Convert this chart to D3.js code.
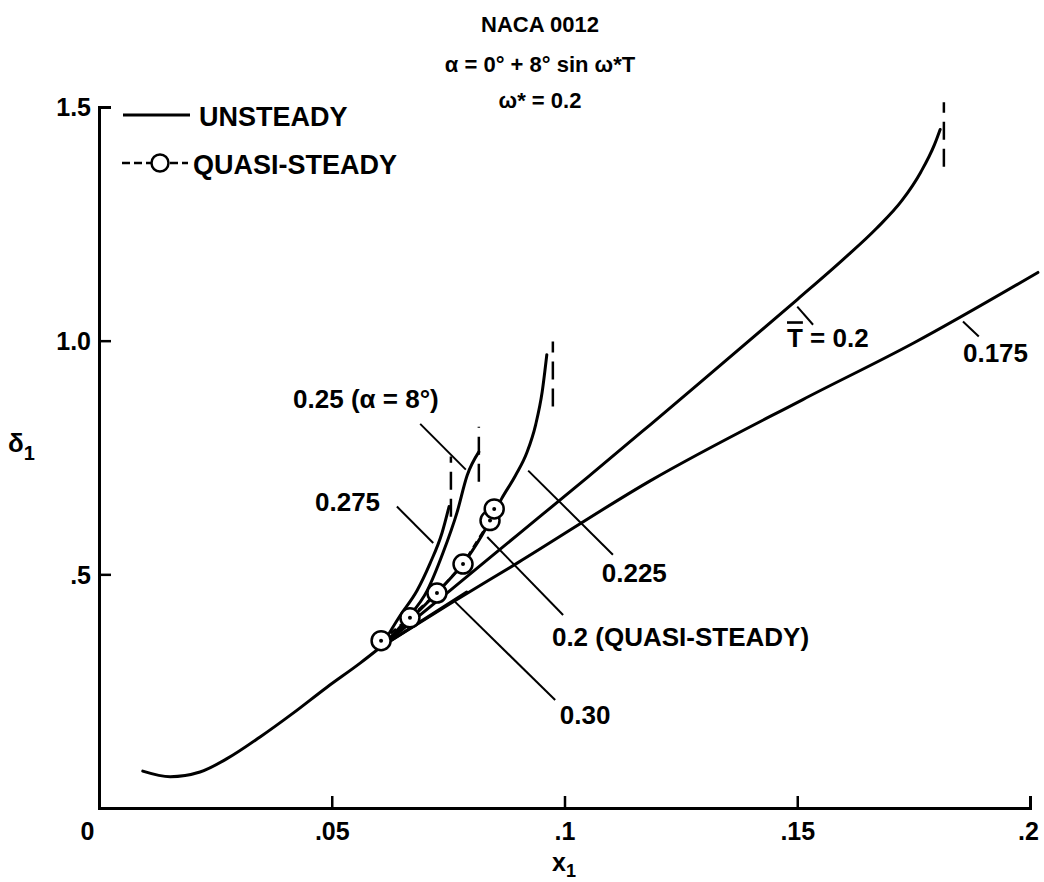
<!DOCTYPE html>
<html>
<head>
<meta charset="UTF-8">
<script src="https://cdn.jsdelivr.net/npm/d3@7"></script>
<style>
  body { margin: 0; background: #fff; }
  text { font-family: Arial, "Liberation Sans", sans-serif; font-weight: bold; fill: #000; }
</style>
</head>
<body>
<script>
// data (x1, delta1)
var baseX = [0.0094, 0.0153, 0.0217, 0.0274, 0.0346, 0.0417, 0.0489, 0.0561, 0.0606];
var baseY = [0.079, 0.067, 0.077, 0.105, 0.152, 0.203, 0.258, 0.310, 0.345];

var t200X = [0.0606, 0.075, 0.09, 0.105, 0.1184, 0.1291, 0.150, 0.160, 0.167, 0.1725, 0.1765, 0.1795, 0.1807];
var t200Y = [0.345, 0.462, 0.585, 0.708, 0.820, 0.910, 1.088, 1.175, 1.240, 1.300, 1.360, 1.420, 1.452];

var t175X = [0.0606, 0.0754, 0.09, 0.1184, 0.1512, 0.175, 0.2017];
var t175Y = [0.345, 0.437, 0.525, 0.700, 0.874, 0.995, 1.146];

var t225X = [0.0606, 0.067, 0.073, 0.079, 0.0835, 0.0865, 0.0895, 0.0919, 0.0938, 0.0952, 0.0962];
var t225Y = [0.345, 0.405, 0.465, 0.533, 0.605, 0.662, 0.712, 0.760, 0.820, 0.890, 0.970];

var t250X = [0.0606, 0.0662, 0.0705, 0.0739, 0.0769, 0.0791, 0.0816];
var t250Y = [0.345, 0.405, 0.465, 0.546, 0.632, 0.712, 0.762];

var t275X = [0.0606, 0.0647, 0.0683, 0.0711, 0.0737, 0.0752];
var t275Y = [0.345, 0.412, 0.465, 0.523, 0.589, 0.645];

var t300X = [0.0606, 0.070, 0.079];
var t300Y = [0.345, 0.405, 0.462];

// quasi-steady points
var qsX = [0.0606, 0.0668, 0.0726, 0.0782, 0.0840, 0.0849];
var qsY = [0.358, 0.407, 0.460, 0.522, 0.615, 0.640];

// dashed verticals at curve ends
var sepX  = [0.1815, 0.0975, 0.0816, 0.0756];
var sepY0 = [1.372, 0.859, 0.698, 0.623];
var sepY1 = [1.510, 0.998, 0.816, 0.752];

// curve labels
var labText = ["T = 0.2", "0.175", "0.225", "0.2 (QUASI-STEADY)", "0.275", "0.25 (\u03b1 = 8\u00b0)", "0.30"];
var labX = [0.1478, 0.1856, 0.1080, 0.0973, 0.0464, 0.0417, 0.0990];
var labY = [1.006, 0.974, 0.503, 0.366, 0.655, 0.876, 0.199];
var leadX0 = [0.1500, 0.1856, 0.0922, 0.0834, 0.0640, 0.0690, 0.0765];
var leadY0 = [1.073, 1.041, 0.722, 0.580, 0.645, 0.822, 0.441];
var leadX1 = [0.1534, 0.1890, 0.1104, 0.0997, 0.0718, 0.0788, 0.0980];
var leadY1 = [1.034, 1.009, 0.542, 0.413, 0.567, 0.724, 0.231];

var xTicks = [0, 0.05, 0.1, 0.15, 0.2];
var xTickLabels = ["0", ".05", ".1", ".15", ".2"];
var yTicks = [0.5, 1.0, 1.5];
var yTickLabels = [".5", "1.0", "1.5"];

var margin = {top: 107, right: 14, bottom: 74, left: 99},
    width = 1044 - margin.left - margin.right,
    height = 882 - margin.top - margin.bottom;

var x = d3.scaleLinear().domain([0, 0.2]).range([0, width]);
var y = d3.scaleLinear().domain([0, 1.5]).range([height, 0]);

var svg = d3.select('body').append('svg')
    .attr('width', 1044).attr('height', 882);

var g = svg.append('g')
    .attr('transform', 'translate(' + margin.left + ',' + margin.top + ')');

function pts(xs, ys) {
  return xs.map(function(v, i) { return {x: v, y: ys[i]}; });
}

var line = d3.line()
    .x(function(d) { return x(d.x); })
    .y(function(d) { return y(d.y); })
    .curve(d3.curveMonotoneX);

// axes
var xAxis = g.append('g')
    .attr('transform', 'translate(0,' + height + ')')
    .call(d3.axisBottom(x).tickValues(xTicks).tickSize(-12).tickPadding(14)
      .tickFormat(function(d, i) { return xTickLabels[i]; }));
var yAxis = g.append('g')
    .call(d3.axisLeft(y).tickValues(yTicks).tickSize(-12).tickPadding(8)
      .tickFormat(function(d, i) { return yTickLabels[i]; }));

[xAxis, yAxis].forEach(function(a) {
  a.select('.domain').attr('stroke', '#000').attr('stroke-width', 3);
  a.selectAll('.tick line').attr('stroke', '#000').attr('stroke-width', 2.5);
  a.selectAll('.tick text').style('font-size', '25px').attr('fill', '#000');
});
xAxis.selectAll('.tick').filter(function(d) { return d === 0; }).select('line').remove();
xAxis.selectAll('.tick').filter(function(d) { return d === 0; }).select('text').attr('x', -12);
xAxis.selectAll('.tick').filter(function(d) { return d === 0.2; }).select('text').attr('x', -2);
yAxis.selectAll('.tick text').attr('dy', '0.35em');

// curves
var curves = [
  pts(baseX, baseY), pts(t200X, t200Y), pts(t175X, t175Y), pts(t225X, t225Y),
  pts(t250X, t250Y), pts(t275X, t275Y), pts(t300X, t300Y)
];
g.selectAll('path.curve')
  .data(curves)
  .enter().append('path')
    .attr('class', 'curve')
    .attr('d', line)
    .attr('fill', 'none')
    .attr('stroke', '#000')
    .attr('stroke-width', 3)
    .attr('stroke-linecap', 'round');

// separation dashed verticals
g.selectAll('line.sep')
  .data(sepX)
  .enter().append('line')
    .attr('x1', function(d) { return x(d); })
    .attr('x2', function(d) { return x(d); })
    .attr('y1', function(d, i) { return y(sepY0[i]); })
    .attr('y2', function(d, i) { return y(sepY1[i]); })
    .attr('stroke', '#000').attr('stroke-width', 2.5)
    .attr('stroke-dasharray', '18,9');

// quasi-steady dashed line + circles
g.append('path')
  .datum(pts(qsX, qsY))
  .attr('d', d3.line().x(function(d) { return x(d.x); }).y(function(d) { return y(d.y); }))
  .attr('fill', 'none').attr('stroke', '#000').attr('stroke-width', 2.5)
  .attr('stroke-dasharray', '7,5');

var qs = g.selectAll('g.qs')
  .data(pts(qsX, qsY))
  .enter().append('g')
    .attr('transform', function(d) { return 'translate(' + x(d.x) + ',' + y(d.y) + ')'; });
qs.append('circle').attr('r', 9.5).attr('fill', '#fff').attr('stroke', '#000').attr('stroke-width', 2.5);
qs.append('circle').attr('r', 2).attr('fill', '#000');

// leaders and labels
g.selectAll('line.lead')
  .data(leadX0)
  .enter().append('line')
    .attr('x1', function(d) { return x(d); })
    .attr('y1', function(d, i) { return y(leadY0[i]); })
    .attr('x2', function(d, i) { return x(leadX1[i]); })
    .attr('y2', function(d, i) { return y(leadY1[i]); })
    .attr('stroke', '#000').attr('stroke-width', 2);

var labs = g.selectAll('text.lab')
  .data(labText)
  .enter().append('text')
    .attr('x', function(d, i) { return x(labX[i]); })
    .attr('y', function(d, i) { return y(labY[i]); })
    .attr('dy', '0.36em')
    .style('font-size', '26px');
labs.each(function(d, i) {
  var t = d3.select(this);
  if (i === 0) {
    t.append('tspan').text('T').style('text-decoration', 'overline');
    t.append('tspan').text(' = 0.2');
  } else {
    t.text(d);
  }
});

// title
var title = ["NACA 0012", "\u03b1 = 0\u00b0 + 8\u00b0 sin \u03c9*T", "\u03c9* = 0.2"];
svg.selectAll('text.title')
  .data(title)
  .enter().append('text')
    .attr('x', 540)
    .attr('y', function(d, i) { return [32, 72, 108][i]; })
    .attr('text-anchor', 'middle')
    .style('font-size', '22px')
    .text(function(d) { return d; });

// legend
var leg = svg.append('g');
leg.append('line').attr('x1', 123).attr('x2', 190).attr('y1', 115).attr('y2', 115)
  .attr('stroke', '#000').attr('stroke-width', 3);
leg.append('text').attr('x', 199).attr('y', 116).attr('dy', '0.36em')
  .style('font-size', '27px').text('UNSTEADY');
leg.append('line').attr('x1', 122).attr('x2', 188).attr('y1', 163).attr('y2', 163)
  .attr('stroke', '#000').attr('stroke-width', 2.5).attr('stroke-dasharray', '8,4');
leg.append('circle').attr('cx', 160).attr('cy', 163).attr('r', 8.5)
  .attr('fill', '#fff').attr('stroke', '#000').attr('stroke-width', 2.5);
leg.append('text').attr('x', 193).attr('y', 164).attr('dy', '0.36em')
  .style('font-size', '27px').text('QUASI-STEADY');

// axis titles
var yl = svg.append('text').attr('x', 8).attr('y', 452).style('font-size', '26px');
yl.append('tspan').text('\u03b4');
yl.append('tspan').attr('dy', 8).style('font-size', '20px').text('1');
var xl = svg.append('text').attr('x', 552).attr('y', 871).style('font-size', '25px');
xl.append('tspan').text('x');
xl.append('tspan').attr('dy', 6).style('font-size', '18px').text('1');
</script>
</body>
</html>
